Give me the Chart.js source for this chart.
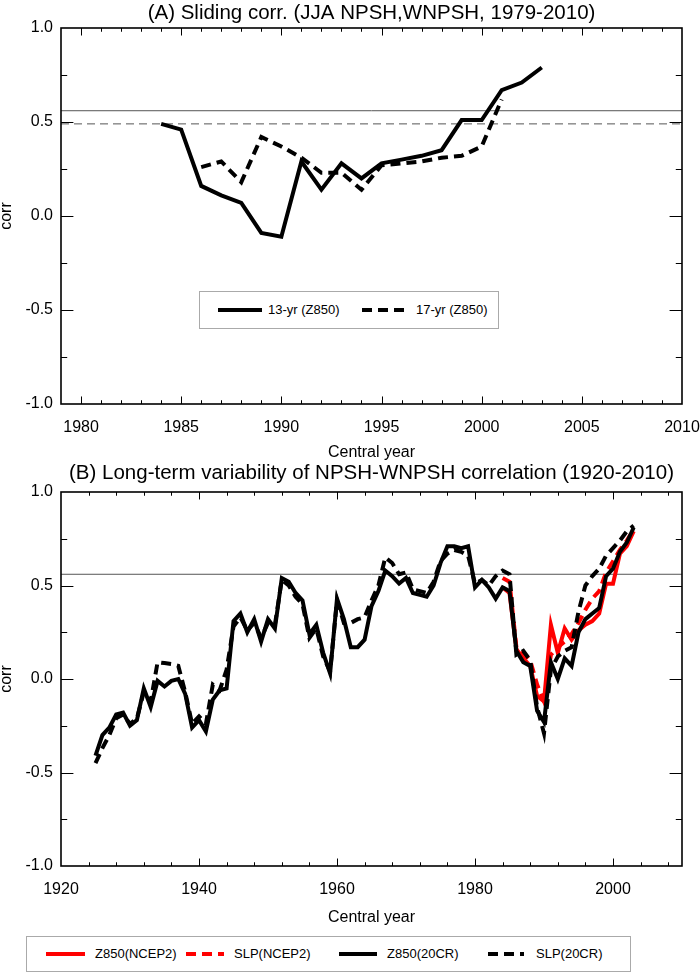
<!DOCTYPE html>
<html>
<head>
<meta charset="utf-8">
<script src="https://cdn.jsdelivr.net/npm/chart.js@4.4.1/dist/chart.umd.min.js"></script>
<style>
  html, body { margin: 0; padding: 0; background: #fff; }
  body { width: 700px; height: 977px; position: relative; overflow: hidden;
         font-family: "Liberation Sans", Arial, sans-serif; color: #000; }
  #wrapA { position: absolute; left: 0; top: 0; width: 700px; height: 462px; }
  #wrapB { position: absolute; left: 0; top: 460px; width: 700px; height: 467px; }
  .lg { position: absolute; border: 1px solid #aaa; background: #fff; }
  .it { position: absolute; white-space: nowrap; font-size: 13px; line-height: 14px; }
  .smp { position: absolute; height: 4px; }
</style>
</head>
<body>
<div id="wrapA"><canvas id="chartA" width="700" height="462"></canvas></div>
<div id="wrapB"><canvas id="chartB" width="700" height="467"></canvas></div>

<div class="lg" style="left:199px; top:291px; width:298px; height:36px;">
  <div class="smp" style="left:18px; top:16px; width:44px; background:#000;"></div>
  <div class="it" style="left:68px; top:11px;">13-yr (Z850)</div>
  <div class="smp" style="left:162px; top:16px; width:48px; background:repeating-linear-gradient(90deg,#000 0 10px,transparent 10px 16px);"></div>
  <div class="it" style="left:216px; top:11px;">17-yr (Z850)</div>
</div>

<div class="lg" style="left:26px; top:936px; width:603px; height:34px;">
  <div class="smp" style="left:19px; top:15px; width:39px; background:#f00;"></div>
  <div class="it" style="left:68px; top:10px;">Z850(NCEP2)</div>
  <div class="smp" style="left:159px; top:15px; width:38px; background:repeating-linear-gradient(90deg,#f00 0 10px,transparent 10px 16px);"></div>
  <div class="it" style="left:207px; top:10px;">SLP(NCEP2)</div>
  <div class="smp" style="left:312px; top:15px; width:38px; background:#000;"></div>
  <div class="it" style="left:360px; top:10px;">Z850(20CR)</div>
  <div class="smp" style="left:461px; top:15px; width:36px; background:repeating-linear-gradient(90deg,#000 0 10px,transparent 10px 16px);"></div>
  <div class="it" style="left:509px; top:10px;">SLP(20CR)</div>
</div>

<script>
// ---------------- DATA ----------------
const titleA = '(A) Sliding corr. (JJA NPSH,WNPSH, 1979-2010)';
const titleB = '(B) Long-term variability of NPSH-WNPSH correlation (1920-2010)';
const xTitle = 'Central year';
const yTitle = 'corr';

const xRangeA = [1979, 2010];
const xMajorTicksA = [1980, 1985, 1990, 1995, 2000, 2005, 2010];
const xMinorStepA = 1;
const xRangeB = [1920, 2010];
const xMajorTicksB = [1920, 1940, 1960, 1980, 2000];
const xMinorStepB = 4;
const yRange = [-1, 1];
const yMajorTicks = [-1.0, -0.5, 0.0, 0.5, 1.0];
const yMinorStep = 0.25;

// significance reference lines
const sigLevelSolid = 0.56;
const sigLevelDashed = 0.49;

// Panel A: 13-yr and 17-yr sliding correlations (Z850)
const start13yr = 1984;
const corr13yr = [0.49, 0.46, 0.16, 0.11, 0.07, -0.09, -0.11, 0.29, 0.14, 0.28,
                  0.20, 0.28, 0.30, 0.32, 0.35, 0.51, 0.51, 0.67, 0.71, 0.79];
const start17yr = 1986;
const corr17yr = [0.26, 0.29, 0.18, 0.42, 0.37, 0.31, 0.23, 0.23, 0.14, 0.27,
                  0.28, 0.29, 0.31, 0.32, 0.37, 0.62];

// Panel B: NCEP2 (1984-2003)
const startNCEP2 = 1984;
const z850NCEP2 = [0.49, 0.46, 0.16, 0.11, 0.07, -0.09, -0.12, 0.29, 0.14, 0.27,
                   0.21, 0.26, 0.29, 0.31, 0.35, 0.51, 0.51, 0.67, 0.71, 0.79];
const slpNCEP2  = [0.54, 0.52, 0.17, 0.14, 0.10, -0.03, -0.12, 0.13, 0.17, 0.20,
                   0.24, 0.30, 0.37, 0.43, 0.47, 0.57, 0.63, 0.69, 0.74, 0.80];

// Panel B: 20CR (1925-2003)
const start20CR = 1925;
const z850_20CR = [
  -0.41, -0.30, -0.26, -0.19, -0.18, -0.25, -0.22, -0.05, -0.15, -0.01, // 1925-1934
  -0.04, -0.01,  0.00, -0.08, -0.26, -0.22, -0.28, -0.11, -0.06, -0.05, // 1935-1944
   0.31,  0.35,  0.25,  0.32,  0.20,  0.32,  0.27,  0.54,  0.52,  0.46, // 1945-1954
   0.42,  0.24,  0.29,  0.14,  0.03,  0.43,  0.32,  0.17,  0.17,  0.21, // 1955-1964
   0.39,  0.47,  0.58,  0.55,  0.51,  0.54,  0.46,  0.45,  0.44,  0.50, // 1965-1974
   0.62,  0.71,  0.71,  0.70,  0.71,  0.49,  0.53,  0.49,  0.43,  0.49, // 1975-1984
   0.47,  0.15,  0.09,  0.07, -0.17, -0.23,  0.09,  0.00,  0.11,  0.07, // 1985-1994
   0.25,  0.32,  0.35,  0.38,  0.55,  0.59,  0.68,  0.73,  0.81         // 1995-2003
];
const slp20CR = [
  -0.45, -0.37, -0.30, -0.21, -0.19, -0.24, -0.21, -0.07, -0.12,  0.09, // 1925-1934
   0.085, 0.08,  0.07, -0.07, -0.24, -0.20, -0.24, -0.03, -0.06,  0.05, // 1935-1944
   0.28,  0.33,  0.26,  0.30,  0.22,  0.30,  0.29,  0.53,  0.50,  0.44, // 1945-1954
   0.40,  0.22,  0.27,  0.12,  0.04,  0.42,  0.30,  0.30,  0.32,  0.33, // 1955-1964
   0.42,  0.50,  0.65,  0.62,  0.56,  0.57,  0.48,  0.47,  0.46,  0.52, // 1965-1974
   0.63,  0.67,  0.69,  0.68,  0.66,  0.51,  0.53,  0.50,  0.55,  0.58, // 1975-1984
   0.56,  0.13,  0.15,  0.10, -0.15, -0.29,  0.05,  0.12,  0.15,  0.17, // 1985-1994
   0.36,  0.50,  0.55,  0.59,  0.66,  0.70,  0.74,  0.79,  0.82         // 1995-2003
];

// ---------------- HELPERS ----------------
const FONT = '"Liberation Sans", Arial, Helvetica, sans-serif';
function pts(start, arr) { return arr.map((v, i) => ({ x: start + i, y: v })); }
function hline(range, level) { return [{ x: range[0], y: level }, { x: range[1], y: level }]; }

const axisBox = {
  id: 'axisBox',
  afterDraw(chart, args, o) {
    const { ctx, chartArea: a, scales: { x, y } } = chart;
    ctx.save();
    ctx.strokeStyle = '#000';
    ctx.lineWidth = 1;
    const xl = (a.bottom - a.top) * 0.02;
    const yl = (a.right - a.left) * 0.02;
    ctx.beginPath();
    for (let v = o.xMin + o.xStep; v < o.xMax - 1e-9; v += o.xStep) {
      const px = Math.round(x.getPixelForValue(v)) + 0.5;
      const L = o.xMajor.includes(v) ? xl : xl / 2;
      ctx.moveTo(px, a.bottom); ctx.lineTo(px, a.bottom - L);
      ctx.moveTo(px, a.top); ctx.lineTo(px, a.top + L);
    }
    for (let k = 1; k < Math.round((o.yMax - o.yMin) / o.yStep); k++) {
      const v = o.yMin + k * o.yStep;
      const py = Math.round(y.getPixelForValue(v)) + 0.5;
      const major = o.yMajor.some(m => Math.abs(m - v) < 1e-9);
      const L = major ? yl : yl / 2;
      ctx.moveTo(a.left, py); ctx.lineTo(a.left + L, py);
      ctx.moveTo(a.right, py); ctx.lineTo(a.right - L, py);
    }
    ctx.stroke();
    ctx.lineWidth = 1.6;
    ctx.strokeRect(a.left, a.top, a.right - a.left, a.bottom - a.top);
    ctx.restore();
  }
};

function makeOptions(title, xRange, xMajor, xStep, titlePad, xAxisH) {
  return {
    responsive: false,
    animation: false,
    devicePixelRatio: 1,
    layout: { padding: { left: 0, right: 18, top: 0, bottom: 0 } },
    elements: { point: { radius: 0, hoverRadius: 0 }, line: { tension: 0, borderJoinStyle: 'miter' } },
    plugins: {
      legend: { display: false },
      tooltip: { enabled: false },
      title: {
        display: true, text: title, fullSize: false, color: '#000',
        font: { family: FONT, size: 20.5, weight: 'normal', lineHeight: 1.2 },
        padding: titlePad
      },
      axisBox: { xMin: xRange[0], xMax: xRange[1], xStep: xStep, xMajor: xMajor,
                 yMin: yRange[0], yMax: yRange[1], yStep: yMinorStep, yMajor: yMajorTicks }
    },
    scales: {
      x: {
        type: 'linear', min: xRange[0], max: xRange[1],
        grid: { display: false, drawTicks: false }, border: { display: false },
        afterBuildTicks: s => { s.ticks = xMajor.map(v => ({ value: v })); },
        afterFit: s => { s.height = xAxisH; s.paddingLeft = 0; s.paddingRight = 0; },
        ticks: { color: '#000', font: { family: FONT, size: 16 }, padding: 14,
                 autoSkip: false, maxRotation: 0, callback: v => String(v) },
        title: { display: true, text: xTitle, color: '#000', padding: 0,
                 font: { family: FONT, size: 16 } }
      },
      y: {
        type: 'linear', min: yRange[0], max: yRange[1],
        grid: { display: false, drawTicks: false }, border: { display: false },
        afterBuildTicks: s => { s.ticks = yMajorTicks.map(v => ({ value: v })); },
        afterFit: s => { s.width = 61; s.paddingTop = 0; s.paddingBottom = 0; },
        ticks: { color: '#000', font: { family: FONT, size: 16 }, padding: 8,
                 callback: v => Number(v).toFixed(1) },
        title: { display: true, text: yTitle, color: '#000', padding: { top: -3, bottom: 0 },
                 font: { family: FONT, size: 16 } }
      }
    }
  };
}

// ---------------- CHART A ----------------
new Chart(document.getElementById('chartA'), {
  type: 'line',
  data: {
    datasets: [
      { label: '13-yr (Z850)', data: pts(start13yr, corr13yr), borderColor: '#000', borderWidth: 4, fill: false },
      { label: '17-yr (Z850)', data: pts(start17yr, corr17yr), borderColor: '#000', borderWidth: 4, borderDash: [10, 6], fill: false },
      { label: 'sig solid', data: hline(xRangeA, sigLevelSolid), borderColor: '#555', borderWidth: 1, fill: false },
      { label: 'sig dashed', data: hline(xRangeA, sigLevelDashed), borderColor: '#555', borderWidth: 1, borderDash: [8, 5], fill: false }
    ]
  },
  options: makeOptions(titleA, xRangeA, xMajorTicksA, xMinorStepA, { top: 1, bottom: 2.4 }, 58),
  plugins: [axisBox]
});

// ---------------- CHART B ----------------
new Chart(document.getElementById('chartB'), {
  type: 'line',
  data: {
    datasets: [
      { label: 'SLP(20CR)', data: pts(start20CR, slp20CR), borderColor: '#000', borderWidth: 4, borderDash: [10, 6], fill: false },
      { label: 'Z850(20CR)', data: pts(start20CR, z850_20CR), borderColor: '#000', borderWidth: 4, fill: false },
      { label: 'SLP(NCEP2)', data: pts(startNCEP2, slpNCEP2), borderColor: '#f00', borderWidth: 4, borderDash: [10, 6], fill: false },
      { label: 'Z850(NCEP2)', data: pts(startNCEP2, z850NCEP2), borderColor: '#f00', borderWidth: 4, fill: false },
      { label: 'sig solid', data: hline(xRangeB, sigLevelSolid), borderColor: '#555', borderWidth: 1, fill: false }
    ]
  },
  options: makeOptions(titleB, xRangeB, xMajorTicksB, xMinorStepB, { top: 1, bottom: 6.4 }, 61),
  plugins: [axisBox]
});
</script>
</body>
</html>
